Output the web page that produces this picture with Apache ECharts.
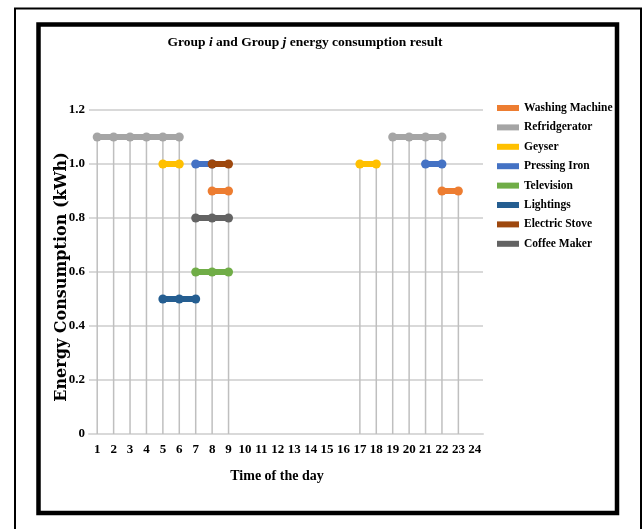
<!DOCTYPE html>
<html>
<head>
<meta charset="utf-8">
<script src="https://cdn.jsdelivr.net/npm/echarts@6/dist/echarts.min.js"></script>
<style>
html,body{margin:0;padding:0;background:#fff;}
#chart{width:643px;height:529px;}
</style>
</head>
<body>
<div id="chart"></div>
<script>
const hours = ['1','2','3','4','5','6','7','8','9','10','11','12','13','14','15','16','17','18','19','20','21','22','23','24'];
const yTicks = [0, 0.2, 0.4, 0.6, 0.8, 1.0, 1.2];

//                    1     2     3     4     5     6     7     8     9     10    11    12    13    14    15    16    17    18    19    20    21    22    23    24
const washingMachine = [null, null, null, null, null, null, null, 0.9,  0.9,  null, null, null, null, null, null, null, null, null, null, null, null, 0.9,  0.9,  null];
const refrigerator   = [1.1,  1.1,  1.1,  1.1,  1.1,  1.1,  null, null, null, null, null, null, null, null, null, null, null, null, 1.1,  1.1,  1.1,  1.1,  null, null];
const geyser         = [null, null, null, null, 1.0,  1.0,  null, null, null, null, null, null, null, null, null, null, 1.0,  1.0,  null, null, null, null, null, null];
const pressingIron   = [null, null, null, null, null, null, 1.0,  1.0,  null, null, null, null, null, null, null, null, null, null, null, null, 1.0,  1.0,  null, null];
const television     = [null, null, null, null, null, null, 0.6,  0.6,  0.6,  null, null, null, null, null, null, null, null, null, null, null, null, null, null, null];
const lightings      = [null, null, null, null, 0.5,  0.5,  0.5,  null, null, null, null, null, null, null, null, null, null, null, null, null, null, null, null, null];
const electricStove  = [null, null, null, null, null, null, null, 1.0,  1.0,  null, null, null, null, null, null, null, null, null, null, null, null, null, null, null];
const coffeeMaker    = [null, null, null, null, null, null, 0.8,  0.8,  0.8,  null, null, null, null, null, null, null, null, null, null, null, null, null, null, null];

const seriesDefs = [
  {name: 'Washing Machine', data: washingMachine, color: '#ED7D31'},
  {name: 'Refridgerator',   data: refrigerator,   color: '#A5A5A5'},
  {name: 'Geyser',          data: geyser,         color: '#FFC000'},
  {name: 'Pressing Iron',   data: pressingIron,   color: '#4472C4'},
  {name: 'Television',      data: television,     color: '#70AD47'},
  {name: 'Lightings',       data: lightings,      color: '#255E91'},
  {name: 'Electric Stove',  data: electricStove,  color: '#9E480E'},
  {name: 'Coffee Maker',    data: coffeeMaker,    color: '#636363'}
];

// drop lines: highest value at each hour, from the series arrays
const dropData = [];
hours.forEach((h, i) => {
  let m = null;
  seriesDefs.forEach(s => { const v = s.data[i]; if (v != null && (m == null || v > m)) m = v; });
  if (m != null) dropData.push([i, m]);
});

const serif = '"Liberation Serif", "Times New Roman", serif';

const chart = echarts.init(document.getElementById('chart'), null, {renderer: 'canvas'});

const series = [{
  type: 'custom',
  name: 'drop',
  silent: true,
  z: 1,
  data: dropData,
  renderItem: function (params, api) {
    const top = api.coord([api.value(0), api.value(1)]);
    const bot = api.coord([api.value(0), 0]);
    return {
      type: 'line',
      shape: {x1: top[0], y1: top[1], x2: bot[0], y2: bot[1]},
      style: {stroke: '#BFBFBF', lineWidth: 1.5}
    };
  }
}];
seriesDefs.forEach((s, k) => {
  series.push({
    type: 'line',
    name: s.name,
    data: s.data,
    z: 2 + k,
    connectNulls: false,
    symbol: 'circle',
    symbolSize: 9,
    showSymbol: true,
    color: s.color,
    lineStyle: {width: 6, color: s.color},
    itemStyle: {color: s.color},
    emphasis: {disabled: true},
    animation: false
  });
});

chart.setOption({
  animation: false,
  backgroundColor: '#ffffff',
  title: {
    text: '{n|Group }{i|i}{n| and Group }{i|j}{n| energy consumption result}',
    left: 305,
    top: 36,
    padding: 0,
    textAlign: 'center',
    textStyle: {
      rich: {
        n: {fontFamily: serif, fontWeight: 'bold', fontSize: 13.5, color: '#000'},
        i: {fontFamily: serif, fontWeight: 'bold', fontStyle: 'italic', fontSize: 13.5, color: '#000'}
      }
    }
  },
  legend: {
    orient: 'vertical',
    left: 497,
    top: 101,
    padding: 0,
    icon: 'rect',
    itemWidth: 22,
    itemHeight: 6,
    itemGap: 5.4,
    data: seriesDefs.map(s => s.name),
    textStyle: {fontFamily: serif, fontWeight: 'bold', fontSize: 11.5, color: '#000', lineHeight: 14},
    selectedMode: false
  },
  grid: {left: 89, right: 160, top: 110, bottom: 95, containLabel: false, outerBoundsMode: 'none'},
  xAxis: {
    type: 'category',
    data: hours,
    boundaryGap: true,
    name: 'Time of the day',
    nameLocation: 'middle',
    nameGap: 35,
    nameTextStyle: {fontFamily: serif, fontWeight: 'bold', fontSize: 14, color: '#000', padding: [0, 18, 0, 0]},
    axisLine: {lineStyle: {color: '#D9D9D9', width: 2}},
    axisTick: {show: false},
    axisLabel: {interval: 0, fontFamily: serif, fontWeight: 'bold', fontSize: 13, color: '#000', margin: 9},
    splitLine: {show: false}
  },
  yAxis: {
    type: 'value',
    min: 0,
    max: 1.2,
    interval: 0.2,
    name: 'Energy Consumption (kWh)',
    nameLocation: 'middle',
    nameGap: 19,
    nameMoveOverlap: false,
    nameRotate: 90,
    nameTextStyle: {fontFamily: '"DejaVu Serif", serif', fontWeight: 'bold', fontSize: 16, color: '#000', padding: [0, 10, 0, 0]},
    axisLine: {show: false},
    axisTick: {show: false},
    axisLabel: {
      fontFamily: serif, fontWeight: 'bold', fontSize: 13, color: '#000', margin: 4,
      formatter: v => (v === 0 ? '0' : v.toFixed(1))
    },
    splitLine: {lineStyle: {color: '#D9D9D9', width: 2}}
  },
  graphic: [
    {type: 'rect', silent: true, z: 100,
     shape: {x: 15, y: 8.5, width: 626, height: 540},
     style: {fill: 'none', stroke: '#000', lineWidth: 2}},
    {type: 'rect', silent: true, z: 100,
     shape: {x: 38.5, y: 24.5, width: 578.5, height: 488.5},
     style: {fill: 'none', stroke: '#000', lineWidth: 4.5}}
  ],
  series: series
});
</script>
</body>
</html>
